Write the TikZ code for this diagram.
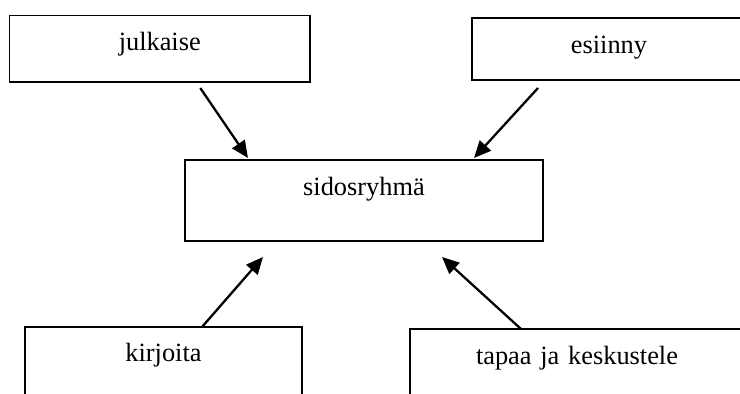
\documentclass[tikz,border=0pt]{standalone}
\usepackage{fontspec}
\setmainfont{Liberation Serif}
\usetikzlibrary{arrows.meta}

\begin{document}
\begin{tikzpicture}[box/.style={draw, rectangle, line width=1.1pt, inner sep=0pt, outer sep=0pt, anchor=north, align=center, font=\fontsize{15}{18}\selectfont}, >={Triangle[length=0.34cm, width=0.3cm]}, line width=1.3pt]
    \useasboundingbox (0, 0) rectangle (14.8, -7.88);
    \clip (0, 0) rectangle (14.8, -7.88);

    \node[box, text width=6.01cm, text height=0.69cm, text depth=0.64cm] (julkaise) at (3.195, -0.31) {julkaise};
    \node[box, text width=5.48cm, text height=0.70cm, text depth=0.54cm] (esiinny) at (12.18, -0.36) {esiinny};
    \node[box, text width=7.16cm, text height=0.70cm, text depth=0.92cm] (sidos) at (7.28, -3.2) {sidosryhmä};
    \node[box, text width=5.54cm, text height=0.68cm, text depth=0.8cm] (kirjoita) at (3.27, -6.54) {kirjoita};
    \node[box, text width=6.68cm, text height=0.70cm, text depth=0.8cm] (tapaa) at (11.54, -6.58) {tapaa ja keskustele};

    \path[->]
        ([xshift=0.81cm, yshift=-0.12cm]julkaise.south) edge ([xshift=-2.32cm, yshift=0.04cm]sidos.north)
        ([xshift=-1.42cm, yshift=-0.16cm]esiinny.south) edge ([xshift=2.2cm, yshift=0.04cm]sidos.north)

        ([xshift=0.77cm]kirjoita.north) edge ([xshift=-2.02cm, yshift=-0.32cm]sidos.south)
        ([xshift=-1.12cm]tapaa.north) edge ([xshift=1.56cm, yshift=-0.32cm]sidos.south);
\end{tikzpicture}
\end{document}
